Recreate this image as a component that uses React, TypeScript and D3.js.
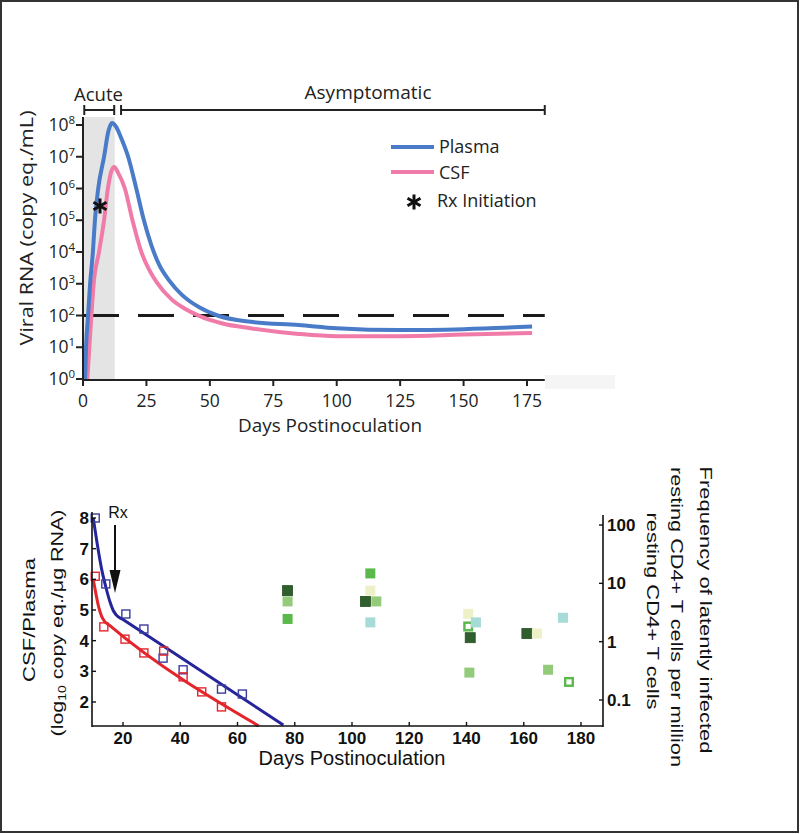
import React from 'react';
import * as d3 from 'd3';

// ---------- Upper panel data ----------
const upperTicksX = [0, 25, 50, 75, 100, 125, 150, 175];
const upperTickExps = [0, 1, 2, 3, 4, 5, 6, 7, 8];
const plasmaDays = [0.8, 1.2, 2.0, 2.8, 3.9, 4.7, 6.0, 8.3, 10, 11.4, 13, 15, 17.8, 21, 24, 27, 30, 34, 39, 46, 53, 66, 85, 100, 125, 150, 177];
const plasmaLog10 = [0, 1, 2, 3, 4, 5, 6, 7, 7.8, 8.06, 7.95, 7.6, 7, 6, 5, 4.2, 3.6, 3.1, 2.65, 2.25, 2.0, 1.8, 1.7, 1.6, 1.54, 1.57, 1.65];
const csfDays = [1.7, 2.5, 3.3, 4.2, 6.3, 8.3, 9.8, 11.2, 12.3, 13.8, 16.5, 19.5, 23, 26, 29, 35, 40, 46, 55, 66, 85, 100, 125, 150, 177];
const csfLog10 = [0, 1, 2, 3, 4, 5, 6, 6.55, 6.68, 6.5, 6, 5, 4, 3.45, 3.05, 2.5, 2.22, 1.98, 1.75, 1.6, 1.42, 1.35, 1.35, 1.4, 1.45];
const rxDay = 6.7;
const rxLog10 = 5.45;
const thresholdLog10 = 2;
const acuteShade = [0, 12.5];
const acuteBracket = [0.5, 12.3];
const asymBracket = [15, 182];
const upperSeries = ['Plasma', 'CSF'];

// ---------- Lower panel data ----------
const lowerTicksX = [20, 40, 60, 80, 100, 120, 140, 160, 180];
const lowerTicksY = [2, 3, 4, 5, 6, 7, 8];
const rightTicks = [0.1, 1, 10, 100];
const rightTickLabels = ['0.1', '1', '10', '100'];
const plasmaSqDays = [10.3, 14, 21, 27.3, 34, 41, 54.4, 61.7];
const plasmaSqVal = [8.0, 5.85, 4.87, 4.38, 3.43, 3.05, 2.42, 2.26];
const csfSqDays = [10.3, 13.3, 20.7, 27.3, 34.2, 41, 47.5, 54.4];
const csfSqVal = [6.1, 4.45, 4.05, 3.6, 3.66, 2.82, 2.33, 1.84];
const plasmaFitDays = [9.6, 11, 12.5, 14, 15.5, 16.5, 17.6, 20, 76];
const plasmaFitVal = [8.0, 7.15, 6.35, 5.75, 5.25, 5.0, 4.84, 4.69, 1.25];
const csfFitDays = [9.6, 10.5, 11.5, 12.5, 13.5, 15, 67.4];
const csfFitVal = [6.0, 5.55, 5.1, 4.8, 4.64, 4.52, 1.22];
const latentDays = [77.5, 77.5, 77.5, 106.4, 106.4, 104.7, 108.5, 106.4, 140.6, 140.6, 143.3, 141.3, 141, 161.1, 164.6, 173.7, 168.5, 175.8];
const latentFreq = [7.5, 4.9, 2.45, 14.8, 7.5, 4.9, 4.9, 2.14, 3.0, 1.82, 2.14, 1.17, 0.295, 1.38, 1.38, 2.57, 0.33, 0.204];
const latentGroup = ['dark', 'light', 'mid', 'mid', 'pale', 'dark', 'light', 'cyan', 'pale', 'open', 'cyan', 'dark', 'light', 'dark', 'pale', 'cyan', 'light', 'open'];

const groupColor: Record<string, string> = {
  dark: '#2f5f2c',
  light: '#93cb7b',
  mid: '#5bb94b',
  pale: '#eef0c7',
  cyan: '#a7dbd7',
  open: '#5bb94b',
};

const BLUE = '#4a7bc8';
const PINK = '#f07ba9';
const NAVY = '#25259b';
const RED = '#e4252c';

const upFont = '"Open Sans", sans-serif';
const loFont = '"Liberation Sans", Arial, sans-serif';

export default function App() {
  const xU = d3.scaleLinear().domain([0, 175]).range([83, 527]);
  const yU = d3.scaleLog().domain([1, 1e8]).range([379, 125]);
  const lineU = d3
    .line<[number, number]>()
    .x((d) => xU(d[0]))
    .y((d) => yU(Math.pow(10, d[1])))
    .curve(d3.curveMonotoneX);
  const plasmaPts = plasmaDays.map((d, i) => [d, plasmaLog10[i]] as [number, number]);
  const csfPts = csfDays.map((d, i) => [d, csfLog10[i]] as [number, number]);
  const axisYTop = 117;
  const axisYBot = 380;
  const xEnd = xU(182);

  const xL = d3.scaleLinear().domain([20, 180]).range([123, 581]);
  const yL = d3.scaleLinear().domain([2, 8]).range([702, 518]);
  const yR = d3.scaleLog().domain([0.1, 100]).range([700, 525]);
  const lineL = d3
    .line<[number, number]>()
    .x((d) => xL(d[0]))
    .y((d) => yL(d[1]))
    .curve(d3.curveMonotoneX);
  const plasmaFit = plasmaFitDays.map((d, i) => [d, plasmaFitVal[i]] as [number, number]);
  const csfFit = csfFitDays.map((d, i) => [d, csfFitVal[i]] as [number, number]);
  const loLeft = 92;
  const loRight = 603;
  const loBottom = 726;

  const asterisk = (cx: number, cy: number, r: number, key: string) => (
    <g key={key} stroke="#111" strokeWidth={3} strokeLinecap="butt">
      {[90, 30, 150].map((a) => {
        const rad = (a * Math.PI) / 180;
        return (
          <line
            key={a}
            x1={cx - r * Math.cos(rad)}
            y1={cy - r * Math.sin(rad)}
            x2={cx + r * Math.cos(rad)}
            y2={cy + r * Math.sin(rad)}
          />
        );
      })}
    </g>
  );

  const bracket = (x1: number, x2: number, y: number, key: string) => (
    <g key={key} stroke="#222" strokeWidth={2}>
      <line x1={x1} x2={x2} y1={y} y2={y} />
      <line x1={x1} x2={x1} y1={y - 5} y2={y + 5} />
      <line x1={x2} x2={x2} y1={y - 5} y2={y + 5} />
    </g>
  );

  const sq = 8;
  const gsq = 10;

  return (
    <svg
      width={800}
      height={834}
      style={{ position: 'absolute', left: 0, top: 0, background: '#fff' }}
    >
      <rect x={0} y={0} width={800} height={834} fill="#fff" />
      <rect x={1} y={1} width={797} height={831} fill="none" stroke="#333" strokeWidth={2} />

      {/* ================= UPPER PANEL ================= */}
      <rect x={545} y={375} width={70} height={14} fill="#f5f5f5" />
      <rect
        x={xU(acuteShade[0])}
        y={axisYTop}
        width={xU(acuteShade[1]) - xU(acuteShade[0])}
        height={axisYBot - axisYTop}
        fill="#e4e4e4"
      />
      <line
        x1={xU(0)}
        x2={xEnd}
        y1={yU(Math.pow(10, thresholdLog10))}
        y2={yU(Math.pow(10, thresholdLog10))}
        stroke="#1a1a1a"
        strokeWidth={3}
        strokeDasharray="36 19"
      />
      <path d={lineU(csfPts) || ''} fill="none" stroke={PINK} strokeWidth={4} />
      <path d={lineU(plasmaPts) || ''} fill="none" stroke={BLUE} strokeWidth={4} />
      {asterisk(xU(rxDay), yU(Math.pow(10, rxLog10)), 7.5, 'rx')}

      <line x1={xU(0)} x2={xU(0)} y1={axisYTop} y2={axisYBot + 1} stroke="#222" strokeWidth={2} />
      <line x1={xU(0) - 1} x2={xEnd} y1={axisYBot} y2={axisYBot} stroke="#222" strokeWidth={2} />
      {upperTickExps.map((e) => (
        <g key={'yt' + e}>
          <line x1={xU(0) - 7} x2={xU(0)} y1={yU(Math.pow(10, e))} y2={yU(Math.pow(10, e))} stroke="#222" strokeWidth={2} />
          <text
            x={75}
            y={yU(Math.pow(10, e)) + 6}
            textAnchor="end"
            fontFamily={upFont}
            fontSize={17.5}
            fill="#222"
          >
            10
            <tspan dy={-7} fontSize={11.5}>
              {e}
            </tspan>
          </text>
        </g>
      ))}
      {upperTicksX.map((t) => (
        <g key={'xt' + t}>
          <line x1={xU(t)} x2={xU(t)} y1={axisYBot} y2={axisYBot + 6} stroke="#222" strokeWidth={2} />
          <text x={xU(t)} y={407} textAnchor="middle" fontFamily={upFont} fontSize={17.5} fill="#222">
            {t}
          </text>
        </g>
      ))}
      <text x={330} y={432} textAnchor="middle" fontFamily={upFont} fontSize={18.5} fill="#222" textLength={184} lengthAdjust="spacingAndGlyphs">
        Days Postinoculation
      </text>
      <text
        transform="translate(33,228) rotate(-90)"
        textAnchor="middle"
        fontFamily={upFont}
        fontSize={18.5}
        fill="#222"
        textLength={235}
        lengthAdjust="spacingAndGlyphs"
      >
        Viral RNA (copy eq./mL)
      </text>

      {bracket(xU(acuteBracket[0]), xU(acuteBracket[1]), 110, 'b1')}
      {bracket(xU(asymBracket[0]), xU(asymBracket[1]), 110, 'b2')}
      <text x={98.5} y={101} textAnchor="middle" fontFamily={upFont} fontSize={18.5} fill="#222" textLength={49} lengthAdjust="spacingAndGlyphs">
        Acute
      </text>
      <text x={368} y={99} textAnchor="middle" fontFamily={upFont} fontSize={18.5} fill="#222" textLength={127} lengthAdjust="spacingAndGlyphs">
        Asymptomatic
      </text>

      <line x1={391} x2={434} y1={147} y2={147} stroke={BLUE} strokeWidth={4} />
      <text x={439} y={153} fontFamily={upFont} fontSize={18} fill="#222">
        {upperSeries[0]}
      </text>
      <line x1={391} x2={434} y1={172} y2={172} stroke={PINK} strokeWidth={4} />
      <text x={439} y={179} fontFamily={upFont} fontSize={18} fill="#222">
        {upperSeries[1]}
      </text>
      {asterisk(414, 202, 7.5, 'legrx')}
      <text x={437} y={207} fontFamily={upFont} fontSize={18} fill="#222">
        Rx Initiation
      </text>

      {/* ================= LOWER PANEL ================= */}
      <path d={lineL(plasmaFit) || ''} fill="none" stroke={NAVY} strokeWidth={3} />
      <path d={lineL(csfFit) || ''} fill="none" stroke={RED} strokeWidth={3} />
      {plasmaSqDays.map((d, i) => (
        <rect
          key={'ps' + i}
          x={xL(d) - sq / 2}
          y={yL(plasmaSqVal[i]) - sq / 2}
          width={sq}
          height={sq}
          fill="none"
          stroke="#3b3b9e"
          strokeWidth={1.4}
        />
      ))}
      {csfSqDays.map((d, i) => (
        <rect
          key={'cs' + i}
          x={xL(d) - sq / 2}
          y={yL(csfSqVal[i]) - sq / 2}
          width={sq}
          height={sq}
          fill="none"
          stroke={RED}
          strokeWidth={1.4}
        />
      ))}
      {latentDays.map((d, i) => {
        const g = latentGroup[i];
        const open = g === 'open';
        return (
          <rect
            key={'lt' + i}
            x={xL(d) - gsq / 2 + (open ? 1.2 : 0)}
            y={yR(latentFreq[i]) - gsq / 2 + (open ? 1.2 : 0)}
            width={open ? gsq - 2.4 : gsq}
            height={open ? gsq - 2.4 : gsq}
            fill={open ? '#fff' : groupColor[g]}
            stroke={open ? groupColor[g] : g === 'dark' ? '#264f24' : 'none'}
            strokeWidth={open ? 2.4 : 0.8}
          />
        );
      })}

      <line x1={115} x2={115} y1={525} y2={575} stroke="#111" strokeWidth={2} />
      <path d="M109.5,570 L120.5,570 L115,593 Z" fill="#111" />
      <text x={118} y={518} textAnchor="middle" fontFamily={loFont} fontSize={16} fill="#111">
        Rx
      </text>

      <line x1={loLeft} x2={loLeft} y1={512} y2={loBottom + 1} stroke="#111" strokeWidth={1.6} />
      <line x1={loLeft} x2={loRight} y1={loBottom} y2={loBottom} stroke="#111" strokeWidth={1.6} />
      <line x1={loRight} x2={loRight} y1={515} y2={loBottom + 1} stroke="#111" strokeWidth={1.6} />
      {lowerTicksY.map((t) => (
        <g key={'ly' + t}>
          <line x1={loLeft} x2={loLeft + 4} y1={yL(t)} y2={yL(t)} stroke="#111" strokeWidth={1.4} />
          <text x={89} y={yL(t) + 6} textAnchor="end" fontFamily={loFont} fontWeight="bold" fontSize={17} fill="#111">
            {t}
          </text>
        </g>
      ))}
      {lowerTicksX.map((t) => (
        <g key={'lx' + t}>
          <line x1={xL(t)} x2={xL(t)} y1={loBottom} y2={loBottom - 4} stroke="#111" strokeWidth={1.4} />
          <text x={xL(t)} y={744} textAnchor="middle" fontFamily={loFont} fontWeight="bold" fontSize={17} fill="#111">
            {t}
          </text>
        </g>
      ))}
      {rightTicks.map((t, i) => (
        <g key={'ry' + t}>
          <line x1={loRight - 4} x2={loRight} y1={yR(t)} y2={yR(t)} stroke="#111" strokeWidth={1.4} />
          <text x={607} y={yR(t) + 6} textAnchor="start" fontFamily={loFont} fontWeight="bold" fontSize={17} fill="#111">
            {rightTickLabels[i]}
          </text>
        </g>
      ))}
      <text x={352} y={765} textAnchor="middle" fontFamily={loFont} fontSize={20} fill="#111">
        Days Postinoculation
      </text>
      <text
        transform="translate(35,620) rotate(-90)"
        textAnchor="middle"
        fontFamily={loFont}
        fontSize={17}
        fill="#111"
        textLength={124}
        lengthAdjust="spacingAndGlyphs"
      >
        CSF/Plasma
      </text>
      <text
        transform="translate(63,623) rotate(-90)"
        textAnchor="middle"
        fontFamily={loFont}
        fontSize={17}
        fill="#111"
        textLength={227}
        lengthAdjust="spacingAndGlyphs"
      >
        (log
        <tspan fontSize={11} dy={3}>
          10
        </tspan>
        <tspan dy={-3}> copy eq./μg RNA)</tspan>
      </text>
      <text
        transform="translate(700,610) rotate(90)"
        textAnchor="middle"
        fontFamily={loFont}
        fontSize={17}
        fill="#111"
        textLength={287}
        lengthAdjust="spacingAndGlyphs"
      >
        Frequency of latently infected
      </text>
      <text
        transform="translate(671,617) rotate(90)"
        textAnchor="middle"
        fontFamily={loFont}
        fontSize={17}
        fill="#111"
        textLength={300}
        lengthAdjust="spacingAndGlyphs"
      >
        resting CD4+ T cells per million
      </text>
      <text
        transform="translate(647,611) rotate(90)"
        textAnchor="middle"
        fontFamily={loFont}
        fontSize={17}
        fill="#111"
        textLength={197}
        lengthAdjust="spacingAndGlyphs"
      >
        resting CD4+ T cells
      </text>
    </svg>
  );
}
